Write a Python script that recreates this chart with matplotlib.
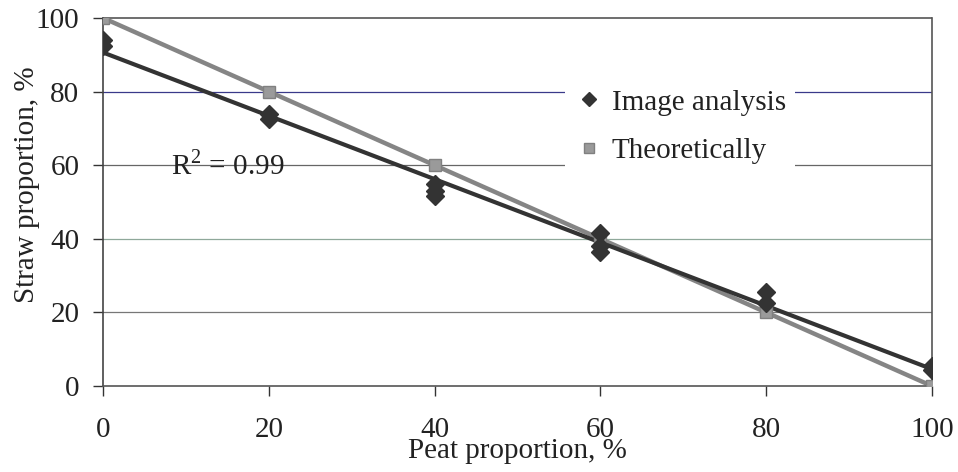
import numpy as np
import matplotlib
matplotlib.use("Agg")
import matplotlib.pyplot as plt

# Data
peat_img = [0, 0, 20, 20, 40, 40, 40, 60, 60, 60, 80, 80, 100, 100]
straw_img = [94, 92.5, 74, 72.5, 55, 53, 51.5, 41.5, 38, 36.5, 25.5, 22.5, 5.5, 4.5]
peat_theo = [0, 20, 40, 60, 80, 100]
straw_theo = [100, 80, 60, 40, 20, 0]
x_ticks = [0, 20, 40, 60, 80, 100]
y_ticks = [0, 20, 40, 60, 80, 100]
r2_label = "R$^{2}$ = 0.99"

plt.rcParams['font.family'] = ['Liberation Serif', 'DejaVu Serif']
plt.rcParams['mathtext.fontset'] = 'custom'
plt.rcParams['mathtext.rm'] = 'Liberation Serif'

FS = 21
fig = plt.figure(figsize=(9.58, 4.72), dpi=100)
ax = fig.add_axes([0.1075, 0.182, 0.8655, 0.780])

# gridlines
grid_colors = {20: '#777777', 40: '#8fa89a', 60: '#666666', 80: '#3a3a8a'}
for yv, c in grid_colors.items():
    ax.axhline(yv, color=c, lw=0.9, zorder=1)

# theoretical line + markers
ax.plot(peat_theo, straw_theo, color='#858585', lw=3.2, zorder=2)
ax.plot(peat_theo, straw_theo, ls='none', marker='s', ms=9, color='#9a9a9a',
        mec='#808080', zorder=4, label='Theoretically')

# image analysis points + linear fit
slope, intercept = np.polyfit(peat_img, straw_img, 1)
xf = np.array([min(peat_img), max(peat_img)])
ax.plot(xf, slope * xf + intercept, color='#333333', lw=3.0, zorder=3)
ax.plot(peat_img, straw_img, ls='none', marker='D', ms=9.5, color='#333333',
        zorder=5, label='Image analysis')

ax.text(8.2, 60, r2_label, fontsize=FS, ha='left', va='center', color='#222222')

ax.set_xlim(0, 100)
ax.set_ylim(0, 100)
ax.set_xticks(x_ticks)
ax.set_yticks(y_ticks)
ax.tick_params(axis='both', labelsize=FS, colors='#333333', labelcolor='#222222',
               direction='out', length=7, width=1)
ax.tick_params(axis='x', pad=15)
ax.tick_params(axis='y', pad=10)

for side in ['top', 'right', 'bottom']:
    ax.spines[side].set_linestyle((0, (1, 1)))
    ax.spines[side].set_color('#555555')
    ax.spines[side].set_linewidth(1.2)
ax.spines['left'].set_color('#444444')
ax.spines['left'].set_linewidth(1.2)

ax.set_xlabel('Peat proportion, %', fontsize=FS, color='#222222', labelpad=-3)
ax.set_ylabel('Straw proportion, %', fontsize=FS, color='#222222')
ax.yaxis.set_label_coords(-0.076, 0.546)

handles, labels = ax.get_legend_handles_labels()
order = [1, 0]
leg = ax.legend([handles[i] for i in order], [labels[i] for i in order],
                loc='center', bbox_to_anchor=(0.696, 0.705), fontsize=FS,
                frameon=True, facecolor='white', edgecolor='none', framealpha=1,
                handletextpad=0.3, labelspacing=0.75, handlelength=1.0,
                borderpad=0.3, markerscale=0.8)
leg.set_zorder(6)
for t in leg.get_texts():
    t.set_color('#222222')

fig.savefig('out.png', dpi=100)
